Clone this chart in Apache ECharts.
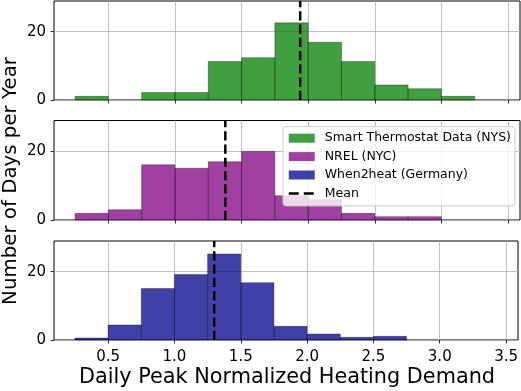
<!DOCTYPE html>
<html>
<head>
<meta charset="utf-8">
<script src="https://cdn.jsdelivr.net/npm/echarts@6/dist/echarts.min.js"></script>
<style>html,body{margin:0;padding:0;background:#fff;}#c{width:521px;height:391px;}</style>
</head>
<body>
<div id="c"></div>
<script>
const binEdges = [0.25,0.5,0.75,1.0,1.25,1.5,1.75,2.0,2.25,2.5,2.75,3.0,3.25];
const smartCounts = [1.07,0,2.2,2.2,11.3,12.4,22.6,16.9,11.3,4.4,3.3,1.07];
const nrelCounts = [1.94,3.0,16.1,15.1,17.0,20.0,7.1,5.9,1.94,0.97,0.97,0];
const w2hCounts = [0.59,4.4,15.1,19.2,25.2,16.8,4.0,1.76,0.78,1.07,0,0];
const means = [1.94, 1.378, 1.30];
const seriesNames = ['Smart Thermostat Data (NYS)','NREL (NYC)','When2heat (Germany)'];
const colors = ['rgba(0,128,0,0.75)','rgba(128,0,128,0.75)','rgba(0,0,139,0.75)'];
const xTicks = [0.5,1.0,1.5,2.0,2.5,3.0,3.5];
const yTicks = [0,20];
const xMin = 0.092, xMax = 3.59, yMax = 29;

const font = 'DejaVu Sans';
const grids = [
  {left:54, right:1, top:1, height:99},
  {left:54, right:1, top:120.5, height:99.5},
  {left:54, right:1, top:241, height:99}
].map(g => Object.assign(g, {show:true, borderColor:'#000', borderWidth:1, backgroundColor:'transparent'}));

const xAxes = grids.map((g,i) => ({
  type:'value', gridIndex:i, min:xMin, max:xMax,
  axisLine:{show:false},
  axisTick:{show:true, length:3.5, lineStyle:{color:'#000', width:0.8}, customValues:xTicks},
  axisLabel:{show:i===2, customValues:xTicks, fontFamily:font, fontSize:15, color:'#000', margin:10,
    formatter:v=>v.toFixed(1)},
  splitLine:{show:true, lineStyle:{color:'#b0b0b0', width:0.8}}
}));
const yAxes = grids.map((g,i) => ({
  type:'value', gridIndex:i, min:0, max:yMax,
  axisLine:{show:false},
  axisTick:{show:true, length:3.5, lineStyle:{color:'#000', width:0.8}, customValues:yTicks},
  axisLabel:{show:true, customValues:yTicks, fontFamily:font, fontSize:15, color:'#000', margin:8},
  splitLine:{show:true, lineStyle:{color:'#b0b0b0', width:0.8}}
}));

function histData(counts){
  const out = [];
  counts.forEach((c,i)=>{ if(c>0) out.push([binEdges[i], binEdges[i+1], c]); });
  return out;
}
const allCounts = [smartCounts, nrelCounts, w2hCounts];
const series = [];
allCounts.forEach((counts,i)=>{
  series.push({
    type:'custom', name:seriesNames[i], xAxisIndex:i, yAxisIndex:i,
    itemStyle:{color:colors[i]},
    encode:{x:[0,1], y:2},
    data:histData(counts),
    renderItem:(params, api)=>{
      const p0 = api.coord([api.value(0), 0]);
      const p1 = api.coord([api.value(1), api.value(2)]);
      return {type:'rect', shape:{x:p0[0], y:p1[1], width:p1[0]-p0[0], height:p0[1]-p1[1]},
        style:{fill:colors[i], stroke:'rgba(0,0,0,0.55)', lineWidth:0.6}};
    },
    z:2
  });
});
means.forEach((m,i)=>{
  series.push({
    type:'line', name:'Mean', xAxisIndex:i, yAxisIndex:i,
    data:[[m,0],[m,yMax]], symbol:'none', silent:true,
    lineStyle:{color:'#000', width:2.5, type:[9.25,4]},
    itemStyle:{color:'#000'}, z:4
  });
});

const chart = echarts.init(document.getElementById('c'), null, {renderer:'canvas'});
chart.setOption({
  animation:false,
  grid:grids, xAxis:xAxes, yAxis:yAxes, series:series,
  legend:{
    orient:'vertical', left:283, top:126.7,
    data:[
      {name:seriesNames[0], icon:'rect'},
      {name:seriesNames[1], icon:'rect'},
      {name:seriesNames[2], icon:'rect'},
      {name:'Mean', itemStyle:{color:'rgba(0,0,0,0)', borderWidth:0, opacity:0},
        lineStyle:{color:'#000', width:2.5, type:[10,5], opacity:1}}
    ],
    itemWidth:26, itemHeight:9, itemGap:2.4,
    padding:[3.5,4,4.5,4.5],
    backgroundColor:'rgba(255,255,255,0.8)', borderColor:'#cccccc', borderWidth:1, borderRadius:3,
    textStyle:{fontFamily:font, fontSize:12.5, color:'#000', lineHeight:16, padding:[0,0,0,5]},
    selectedMode:false
  },
  graphic:[
    {type:'text', x:11, y:181, rotation:Math.PI/2,
      style:{text:'Number of Days per Year', fontFamily:font, fontSize:19.8, fill:'#000', align:'center', verticalAlign:'middle'}},
    {type:'text', x:287, y:378,
      style:{text:'Daily Peak Normalized Heating Demand', fontFamily:font, fontSize:20.8, fill:'#000', align:'center', verticalAlign:'middle'}}
  ]
});
</script>
</body>
</html>
